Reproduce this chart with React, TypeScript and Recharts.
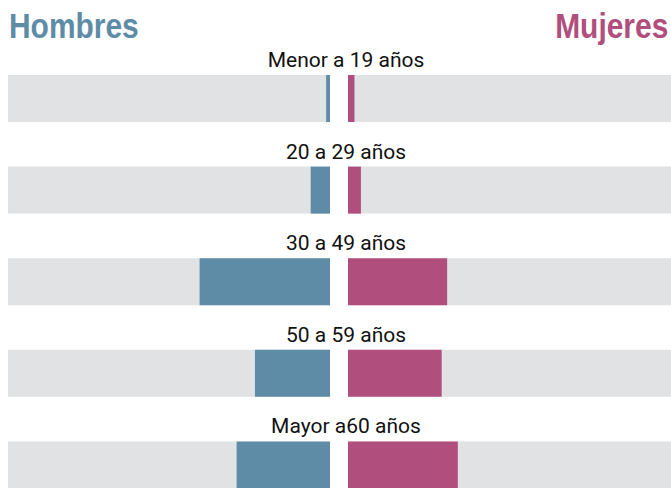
// Pirámide por edad: hombres / mujeres

import { Bar, BarChart, LabelList, XAxis, YAxis } from "recharts";

const categorias = ["Menor a 19 años", "20 a 29 años", "30 a 49 años", "50 a 59 años", "Mayor a60 años"];
const hombres = [1.2, 6, 40.5, 23.3, 29];
const mujeres = [2, 4, 30.7, 29, 34];

const AZUL = "#5e8ca7";
const ROSA = "#b04e7e";
const GRIS = "#e1e2e4";

const data = categorias.map((name, i) => ({
  name,
  hombres: hombres[i],
  mujeres: mujeres[i],
}));

const W = 671;
const H = 511;
const MARGIN_TOP = 53;

const tituloStyle = {
  position: "absolute" as const,
  top: 6,
  fontFamily: "'Liberation Sans', Arial, sans-serif",
  fontWeight: 700,
  fontSize: 35,
  lineHeight: "40px",
  whiteSpace: "nowrap" as const,
};

// etiqueta de categoría centrada sobre cada fila
const renderCategoria = (props: any) => {
  const { y, value } = props;
  return (
    <text
      x={346}
      y={Number(y) - 8}
      textAnchor="middle"
      fontFamily="Roboto, sans-serif"
      fontSize={21}
      fill="#111"
    >
      {value}
    </text>
  );
};

export default function App() {
  return (
    <div
      style={{
        position: "absolute",
        left: 0,
        top: 0,
        width: W,
        height: 488,
        overflow: "hidden",
        background: "#fff",
      }}
    >
      <div style={{ ...tituloStyle, left: 9, color: AZUL, transform: "scaleX(0.855)", transformOrigin: "left" }}>
        Hombres
      </div>
      <div style={{ ...tituloStyle, right: 3, color: ROSA, transform: "scaleX(0.855)", transformOrigin: "right" }}>
        Mujeres
      </div>

      {/* lado izquierdo */}
      <div style={{ position: "absolute", left: 0, top: 0 }}>
        <BarChart
          width={W}
          height={H}
          data={data}
          layout="vertical"
          margin={{ top: MARGIN_TOP, right: W - 330, bottom: 0, left: 8 }}
        >
          <XAxis type="number" domain={[0, 100]} reversed hide />
          <YAxis type="category" dataKey="name" hide />
          <Bar dataKey="hombres" fill={AZUL} background={{ fill: GRIS }} barSize={47} isAnimationActive={false}>
            <LabelList dataKey="name" content={renderCategoria} />
          </Bar>
        </BarChart>
      </div>

      {/* lado derecho */}
      <div style={{ position: "absolute", left: 0, top: 0 }}>
        <BarChart
          width={W}
          height={H}
          data={data}
          layout="vertical"
          margin={{ top: MARGIN_TOP, right: 0, bottom: 0, left: 348 }}
        >
          <XAxis type="number" domain={[0, 100]} hide />
          <YAxis type="category" dataKey="name" hide />
          <Bar dataKey="mujeres" fill={ROSA} background={{ fill: GRIS }} barSize={47} isAnimationActive={false} />
        </BarChart>
      </div>
    </div>
  );
}
